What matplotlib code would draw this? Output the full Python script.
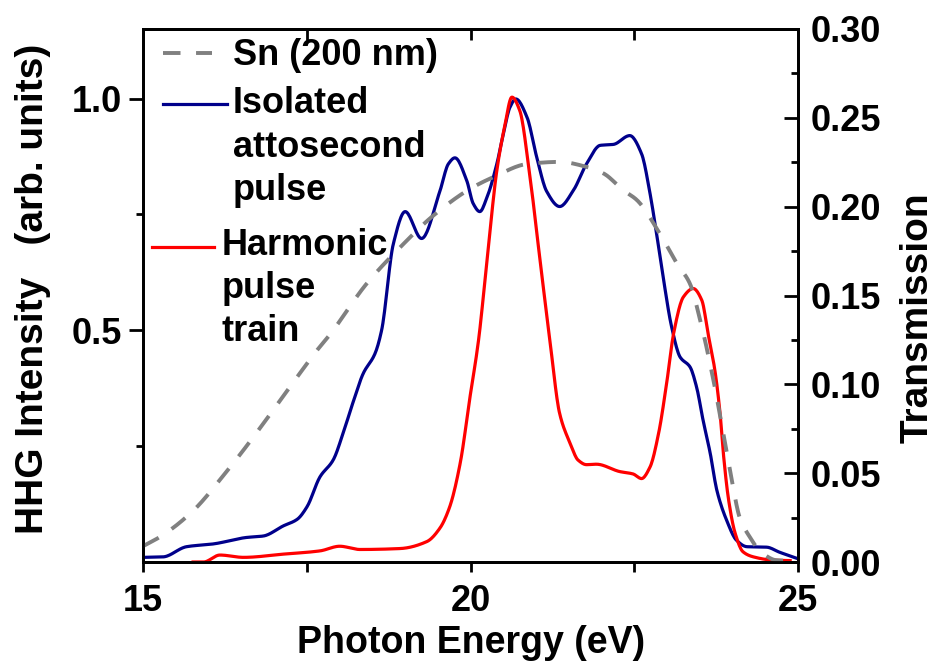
import matplotlib
matplotlib.use("Agg")
import matplotlib.pyplot as plt
from matplotlib.lines import Line2D
import numpy as np

plt.rcParams['font.family'] = ['Liberation Sans', 'DejaVu Sans']
plt.rcParams['font.weight'] = 'bold'

# Isolated attosecond pulse (left axis)
iso_x = [15.0, 15.3, 15.66, 16.07, 16.58, 16.83, 17.14, 17.35, 17.5, 17.7, 17.9, 18.05, 18.2, 18.36,
         18.54, 18.64, 18.82, 19.0, 19.25, 19.53, 19.66, 19.76, 19.94, 20.04, 20.14, 20.25, 20.4,
         20.5, 20.6, 20.69, 20.86, 21.01, 21.16, 21.36, 21.57, 21.77, 21.98, 22.18, 22.43, 22.61,
         22.74, 22.84, 22.94, 23.07, 23.2, 23.35, 23.45, 23.55, 23.66, 23.76, 23.91, 24.06, 24.22,
         24.52, 24.72, 24.98]
iso_y = [0.010, 0.011, 0.033, 0.039, 0.053, 0.056, 0.078, 0.092, 0.119, 0.184, 0.22, 0.277, 0.343, 0.407,
         0.45, 0.5, 0.687, 0.756, 0.698, 0.80, 0.859, 0.872, 0.823, 0.773, 0.756, 0.787, 0.859,
         0.924, 0.981, 0.999, 0.96, 0.873, 0.80, 0.767, 0.802, 0.859, 0.899, 0.901, 0.920, 0.881,
         0.795, 0.708, 0.615, 0.507, 0.442, 0.421, 0.378, 0.306, 0.234, 0.155, 0.09, 0.047, 0.033,
         0.032, 0.021, 0.008]

# Harmonic pulse train (left axis)
hpt_x = [15.76, 15.92, 16.17, 16.53, 17.14, 17.7, 18.0, 18.31, 18.92, 19.33, 19.53, 19.68, 19.84, 19.99,
         20.12, 20.25, 20.4, 20.52, 20.63, 20.75, 20.9, 21.06, 21.21, 21.36, 21.52, 21.64, 21.77, 21.92,
         22.28, 22.48, 22.61, 22.74, 22.87, 23.0, 23.1, 23.25, 23.4, 23.53, 23.63, 23.73, 23.81,
         23.86, 23.94, 24.04, 24.16, 24.32, 24.62, 24.88]
hpt_y = [0.0, 0.0, 0.015, 0.010, 0.017, 0.024, 0.034, 0.027, 0.029, 0.044, 0.073, 0.119, 0.213, 0.356,
         0.478, 0.651, 0.845, 0.94, 1.003, 0.974, 0.838, 0.651, 0.478, 0.32, 0.256, 0.22, 0.21, 0.211,
         0.195, 0.19, 0.18, 0.205, 0.277, 0.392, 0.493, 0.572, 0.590, 0.565, 0.49, 0.414, 0.32,
         0.234, 0.134, 0.062, 0.022, 0.011, 0.004, 0.003]

# Sn (200 nm) transmission (right axis)
sn_x = [15.0, 15.28, 15.76, 16.22, 16.58, 16.94, 17.29, 17.65, 17.85, 18.41, 18.92, 19.43, 19.99,
        20.35, 20.86, 21.36, 21.77, 22.03, 22.33, 22.54, 22.89, 23.15, 23.35, 23.5, 23.71, 23.86,
        23.99, 24.11, 24.27, 24.42, 24.67, 24.93]
sn_y = [0.009, 0.0147, 0.0288, 0.0485, 0.0654, 0.0833, 0.1011, 0.119, 0.128, 0.1566, 0.177, 0.195, 0.210,
        0.2167, 0.224, 0.2252, 0.2224, 0.2187, 0.2093, 0.2037, 0.1848, 0.168, 0.1566, 0.137, 0.102, 0.072,
        0.0457, 0.025, 0.0137, 0.0062, 0.001, 0.0006]

x_ticks = [15, 20, 25]
left_ticks = [0.5, 1.0]
right_ticks = [0.0, 0.05, 0.10, 0.15, 0.20, 0.25, 0.30]


def smooth(x, y, n=800):
    x = np.asarray(x, float); y = np.asarray(y, float)
    # monotone cubic (PCHIP-like) interpolation for a smooth line through the read points
    h = np.diff(x); d = np.diff(y) / h
    m = np.zeros_like(y)
    for k in range(1, len(x) - 1):
        if d[k - 1] * d[k] > 0:
            w1 = 2 * h[k] + h[k - 1]; w2 = h[k] + 2 * h[k - 1]
            m[k] = (w1 + w2) / (w1 / d[k - 1] + w2 / d[k])
    m[0] = d[0]; m[-1] = d[-1]
    xs = np.linspace(x[0], x[-1], n)
    idx = np.clip(np.searchsorted(x, xs) - 1, 0, len(x) - 2)
    t = (xs - x[idx]) / h[idx]
    h00 = 2 * t**3 - 3 * t**2 + 1; h10 = t**3 - 2 * t**2 + t
    h01 = -2 * t**3 + 3 * t**2; h11 = t**3 - t**2
    ys = h00 * y[idx] + h10 * h[idx] * m[idx] + h01 * y[idx + 1] + h11 * h[idx] * m[idx + 1]
    return xs, ys


fig = plt.figure(figsize=(9.35, 6.67), dpi=100)
ax = fig.add_axes([143.3 / 935, 1 - 562 / 667, (798 - 143.3) / 935, (562 - 29) / 667])
ax2 = ax.twinx()

navy = '#00008B'
xs, ys = smooth(iso_x, iso_y)
ax.plot(xs, ys, color=navy, lw=2.3, zorder=3)
xs, ys = smooth(hpt_x, hpt_y)
ax.plot(xs, ys, color='#FF0000', lw=2.3, zorder=3)
xs, ys = smooth(sn_x, sn_y)
ax2.plot(xs, ys, color='#808080', lw=2.8, linestyle=(0, (4.5, 4.0)), zorder=2)

ax.set_xlim(15, 25)
ax.set_ylim(0, 1.15)
ax2.set_ylim(0, 0.30)

ax.set_xticks(x_ticks)
ax.set_xticks([17.5, 22.5], minor=True)
ax.set_yticks(left_ticks)
ax.set_yticks([0.25, 0.75], minor=True)
ax.yaxis.set_major_formatter(matplotlib.ticker.FormatStrFormatter('%.1f'))
ax2.set_yticks(right_ticks)
ax2.set_yticks([0.025, 0.075, 0.125, 0.175, 0.225, 0.275], minor=True)
ax2.yaxis.set_major_formatter(matplotlib.ticker.FormatStrFormatter('%.2f'))

fs_tick = 26
ax.tick_params(axis='x', which='major', direction='out', length=7, width=2, labelsize=fs_tick, pad=9,
               top=False)
ax.tick_params(axis='x', which='minor', direction='out', length=7, width=2, top=False)
ax.tick_params(axis='y', which='major', direction='out', length=10, width=2, labelsize=fs_tick, pad=5)
ax.tick_params(axis='y', which='minor', direction='out', length=5, width=2)
ax2.tick_params(axis='y', which='major', direction='in', length=10, width=2, labelsize=fs_tick, pad=9)
ax2.tick_params(axis='y', which='minor', direction='in', length=5, width=2)

for a in (ax, ax2):
    for s in a.spines.values():
        s.set_linewidth(2)

# top ticks point inward
axt = ax.secondary_xaxis('top')
axt.set_xticks([17.5, 20, 22.5])
axt.tick_params(axis='x', direction='in', length=8, width=2, labeltop=False)
axt.spines['top'].set_linewidth(2)

ax.set_xlabel('Photon Energy (eV)', fontsize=27, fontweight='bold', labelpad=4)
ax.set_ylabel('HHG Intensity   (arb. units)', fontsize=28, fontweight='bold')
ax.yaxis.set_label_coords((51 - 143.3) / 654.7, (562 - 288.5) / 533)
ax2.set_ylabel('Transmission', fontsize=28, fontweight='bold')
ax2.yaxis.set_label_coords((900 - 143.3) / 654.7, (562 - 317.5) / 533)

# Legend (drawn manually, Origin style)
def fx(px):
    return px / 935
def fy(py):
    return 1 - py / 667

fig.add_artist(Line2D([fx(163), fx(212)], [fy(53), fy(53)], color='#808080', lw=2.8,
                      linestyle=(0, (4.5, 4.0))))
fig.add_artist(Line2D([fx(163), fx(227)], [fy(104), fy(104)], color=navy, lw=2.3))
fig.add_artist(Line2D([fx(152), fx(214)], [fy(247), fy(247)], color='#FF0000', lw=2.3))

fs_leg = 26
fig.text(fx(233), fy(65), 'Sn (200 nm)', fontsize=fs_leg, fontweight='bold', va='baseline')
for txt, base in [('Isolated', 113), ('attosecond', 157), ('pulse', 200)]:
    fig.text(fx(233), fy(base), txt, fontsize=fs_leg, fontweight='bold', va='baseline')
for txt, base in [('Harmonic', 255), ('pulse', 298), ('train', 341)]:
    fig.text(fx(222), fy(base), txt, fontsize=fs_leg, fontweight='bold', va='baseline')

fig.savefig('out.png', dpi=100)
